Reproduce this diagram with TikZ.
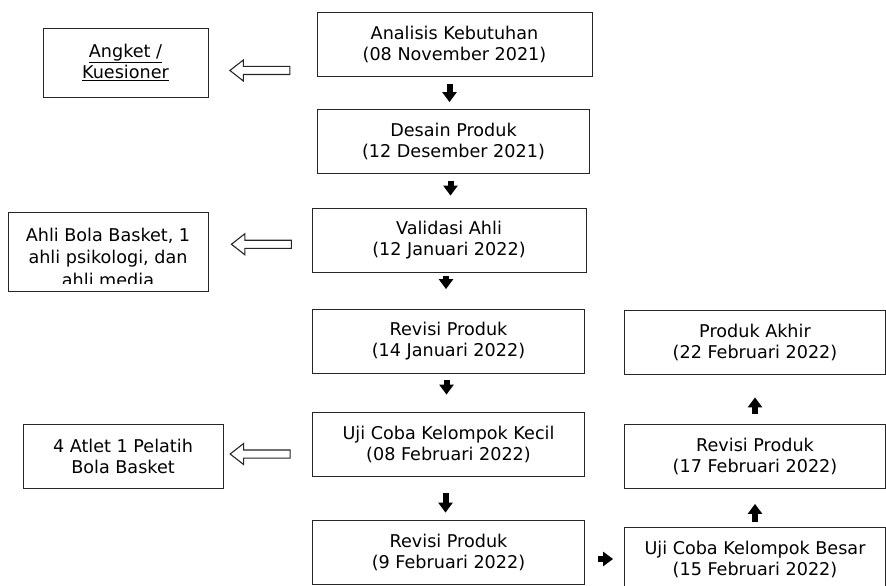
\documentclass[tikz,border=0pt]{standalone}
\usepackage{fontspec}
\setmainfont{DejaVu Sans}
\usetikzlibrary{arrows.meta,shapes.arrows}

\tikzset{
  box/.style={draw=black!85, line width=0.8pt, align=center, inner sep=0pt},
  mainbox/.style={box, minimum width=272pt, minimum height=64pt},
  sidebox/.style={box, minimum width=200pt, minimum height=64pt},
  rightbox/.style={box, minimum width=261pt, minimum height=64pt},
  blk/.style={line width=6pt, -{Triangle[width=14pt,length=10pt]}},
  hollowarr/.style={single arrow, draw=black!85, line width=1.1pt, fill=white,
    text height=7pt, text depth=0pt, text width=0pt, minimum height=60pt,
    single arrow head extend=6.5pt, single arrow tip angle=76,
    shape border rotate=180, inner sep=0pt},
  hollowlink/.style={to path={(\tikztostart) -- node[hollowarr] {} (\tikztotarget)}}
}

\begin{document}
\begin{tikzpicture}[x=1pt,y=-1pt,font=\fontsize{17.6}{21}\selectfont]
  \useasboundingbox (0,0) rectangle (886,586);
  \clip (0,0) rectangle (886,586);

  % main column
  \node[mainbox, minimum width=275pt] (analisis) at (454.5,44) {Analisis Kebutuhan\\(08 November 2021)};
  \node[mainbox] (desain) at (453.5,141.5) {Desain Produk\\(12 Desember 2021)};
  \node[mainbox, minimum width=274pt] (validasi) at (449,240) {Validasi Ahli\\(12 Januari 2022)};
  \node[mainbox] (revisia) at (448.5,341.5) {Revisi Produk\\(14 Januari 2022)};
  \node[mainbox] (kecil) at (448.5,444) {Uji Coba Kelompok Kecil\\(08 Februari 2022)};
  \node[mainbox] (revisib) at (448.5,552) {Revisi Produk\\(9 Februari 2022)};

  % right column
  \node[rightbox] (akhir) at (755,342) {Produk Akhir\\(22 Februari 2022)};
  \node[rightbox] (revisic) at (755,456.5) {Revisi Produk\\(17 Februari 2022)};
  \node[rightbox] (besar) at (755,559) {Uji Coba Kelompok Besar\\(15 Februari 2022)};

  % left column
  \node[box, minimum width=165pt, minimum height=69pt] (angket) at (125.5,62.5)
    {\underline{Angket /}\\\underline{Kuesioner}};
  \node[sidebox, minimum height=79pt] (ahli) at (108,251.5) {};
  \begin{scope}
    \clip ([yshift=8pt]ahli.south west) rectangle (ahli.north east);
    \node[align=center, font=\fontsize{17.6}{22.5}\selectfont] (ahlitext) at (108,257)
      {Ahli Bola Basket, 1\\ahli psikologi, dan\\ahli media};
  \end{scope}
  \node[sidebox] (atlet) at (123,456) {4 Atlet 1 Pelatih\\Bola Basket};

  % black arrows
  \draw[blk, shorten <=8pt, shorten >=7pt] ([xshift=-4pt]desain.north |- analisis.south) -- ([xshift=-4pt]desain.north);
  \draw[blk, shorten <=7pt, shorten >=12pt] ([xshift=-3pt]desain.south) -- ([xshift=-3pt]desain.south |- validasi.north);
  \draw[blk, shorten <=4pt, shorten >=20pt] ([xshift=-3pt]validasi.south) -- ([xshift=-3pt]validasi.south |- revisia.north);
  \draw[blk, shorten <=6pt, shorten >=17pt] ([xshift=-2pt]revisia.south) -- ([xshift=-2pt]revisia.south |- kecil.north);
  \draw[blk, shorten <=17pt, shorten >=7pt] ([xshift=-3pt]kecil.south) -- ([xshift=-3pt]revisib.north);
  \draw[blk, shorten <=13pt, shorten >=11pt] (revisib.east |- besar.west) -- (besar.west);
  \draw[blk, shorten <=5pt, shorten >=15pt] (besar.north) -- (revisic.south);
  \draw[blk, shorten <=10pt, shorten >=23pt] (revisic.north) -- (akhir.south);

  % hollow arrows
  \path[hollowlink] ([yshift=-26.5pt]analisis.west) to ([yshift=-8pt]angket.east);
  \path[hollowlink] ([xshift=4pt,yshift=-4pt]validasi.west) to ([xshift=4pt,yshift=7pt]ahli.east);
  \path[hollowlink] ([xshift=-10pt,yshift=-10pt]kecil.west) to ([yshift=2pt]atlet.east);
\end{tikzpicture}
\end{document}
